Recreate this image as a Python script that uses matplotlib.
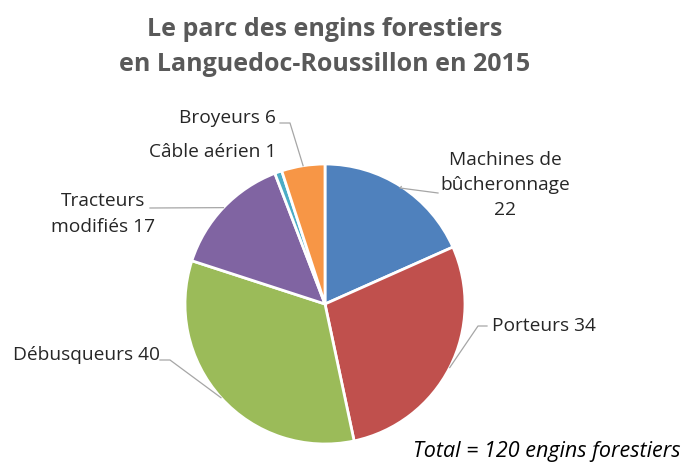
import numpy as np
import matplotlib.pyplot as plt

# donnees
categories = ["Machines de\nbûcheronnage\n22", "Porteurs 34", "Débusqueurs 40",
              "Tracteurs\nmodifiés 17", "Câble aérien 1", "Broyeurs 6"]
valeurs = [22, 34, 40, 17, 1, 6]
couleurs = ["#4F81BD", "#C0504D", "#9BBB59", "#8064A2", "#4BACC6", "#F79646"]
titre = "Le parc des engins forestiers\nen Languedoc-Roussillon en 2015"
total_txt = "Total = 120 engins forestiers"

W, H = 685, 462
fig = plt.figure(figsize=(W / 100, H / 100), dpi=100)
ax = fig.add_axes([0, 0, 1, 1])

cx, cy, r = 325, H - 304, 140
ax.pie(valeurs, colors=couleurs, startangle=90, counterclock=False,
       center=(cx, cy), radius=r, frame=True,
       wedgeprops=dict(edgecolor='white', linewidth=2))
ax.set_xlim(0, W)
ax.set_ylim(0, H)
ax.set_aspect('equal')
ax.axis('off')

# position des etiquettes (pixels, y vers le bas), points du trait, alignement
etiq = [
    ((505, 185), [(400, 188), (438, 193)], 'center'),
    ((492, 326), [(478, 326), (487, 326)], 'left'),
    ((160, 355), [(170, 360), (160, 360)], 'right'),
    ((103, 214), [(150, 208)], 'center'),
    ((276, 152), None, 'right'),
    ((276, 118), [(290, 123), (280, 123)], 'right'),
]

cum = np.cumsum([0] + valeurs)
tot = sum(valeurs)
for i, (pos, coude, ha) in enumerate(etiq):
    ax.text(pos[0], H - pos[1], categories[i], ha=ha, va='center',
            fontsize=13.8, color='#262626', family='Open Sans', linespacing=1.5)
    if coude is None:
        continue
    mid = (cum[i] + cum[i + 1]) / 2 / tot * 2 * np.pi
    ex = cx + r * np.sin(mid)
    ey = cy + r * np.cos(mid)
    xs = [ex] + [p[0] for p in coude]
    ys = [ey] + [H - p[1] for p in coude]
    ax.plot(xs, ys, color='#A6A6A6', linewidth=0.9)

ax.text(325, H - 47, titre, ha='center', va='center', fontsize=18,
        fontweight='bold', color='#595959', family='Open Sans', linespacing=1.55)
ax.text(681, H - 451, total_txt, ha='right', va='center', fontsize=15.5,
        style='italic', color='black', family='Open Sans')

fig.savefig('out.png', dpi=100)
